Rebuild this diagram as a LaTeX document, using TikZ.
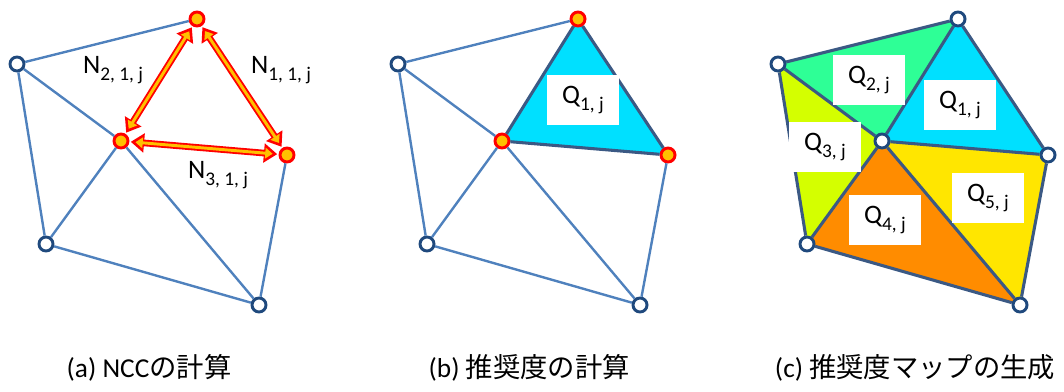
\documentclass[tikz,border=0pt]{standalone}
\usepackage{fontspec}
\setmainfont{Carlito}
\newfontfamily\jpfont{Noto Sans CJK JP}
\usepackage{tikz}
\usetikzlibrary{arrows.meta, backgrounds}

\definecolor{edgeblue}{RGB}{79,129,189}
\definecolor{darkedge}{RGB}{59,89,132}
\definecolor{vtxblue}{RGB}{31,73,125}
\definecolor{vtxgold}{RGB}{255,192,0}
\definecolor{qcyan}{RGB}{0,224,255}
\definecolor{qgreen}{RGB}{46,255,150}
\definecolor{qlime}{RGB}{212,255,0}
\definecolor{qorange}{RGB}{255,140,0}
\definecolor{qyellow}{RGB}{255,230,0}

\newcommand{\subidx}[1]{\raisebox{-5pt}{\fontsize{14.5pt}{14.5pt}\selectfont #1}}

\begin{document}
\begin{tikzpicture}[x=0.75pt, y=-0.75pt,
    vertex/.style={circle, draw=vtxblue, fill=white, line width=2.2pt, inner sep=0pt, minimum size=10.5pt},
    hot/.style={vertex, draw=red, fill=vtxgold},
    edge/.style={draw=edgeblue, line width=1.8pt},
    bold edge/.style={draw=darkedge, line width=2.3pt},
    qbox/.style={fill=white, minimum width=54pt, minimum height=37.5pt, inner sep=0pt, font=\fontsize{20pt}{20pt}\selectfont},
    lbl/.style={font=\fontsize{20pt}{20pt}\selectfont},
    caption/.style={font=\fontsize{20.5pt}{20.5pt}\selectfont},
    ncc/.style={draw=red, line width=5pt, {Triangle[length=10pt,width=14pt]}-{Triangle[length=10pt,width=14pt]}, shorten <=1pt, shorten >=1pt,
        postaction={draw=vtxgold, line width=2.2pt, {Triangle[length=5.5pt,width=8pt]}-{Triangle[length=5.5pt,width=8pt]}, shorten <=4.5pt, shorten >=4.5pt}}
]
\useasboundingbox (0,0) rectangle (1064,392);

% (a) NCC
\node[vertex] (aL) at (17,64) {};
\node[hot] (aT) at (197,19) {};
\node[hot] (aC) at (121,141) {};
\node[hot] (aR) at (287,155) {};
\node[vertex] (aBL) at (46,244) {};
\node[vertex] (aB) at (259,305) {};

\draw[edge] (aT) -- (aL);
\draw[edge] (aL) -- (aC);
\draw[edge] (aL) -- (aBL);
\draw[edge] (aC) -- (aBL);
\draw[edge] (aC) -- (aB);
\draw[edge] (aBL) -- (aB);
\draw[edge] (aR) -- (aB);

\draw[ncc] (aT) -- (aC);
\draw[ncc] (aT) -- (aR);
\draw[ncc] (aC) -- (aR);

\node[lbl] (n2) at (113,70) {N\subidx{2, 1, j}};
\node[lbl] (n1) at (281,70) {N\subidx{1, 1, j}};
\node[lbl] (n3) at (218,175) {N\subidx{3, 1, j}};

% (b) score of one triangle
\node[vertex] (bL) at (398,64) {};
\node[hot] (bT) at (578,19) {};
\node[hot] (bC) at (502,141) {};
\node[hot] (bR) at (668,155) {};
\node[vertex] (bBL) at (427,244) {};
\node[vertex] (bB) at (640,305) {};

\begin{scope}[on background layer]
  \fill[qcyan] (bT.center) -- (bC.center) -- (bR.center) -- cycle;
\end{scope}

\draw[edge] (bT) -- (bL);
\draw[edge] (bL) -- (bC);
\draw[edge] (bL) -- (bBL);
\draw[edge] (bC) -- (bBL);
\draw[edge] (bC) -- (bB);
\draw[edge] (bBL) -- (bB);
\draw[edge] (bR) -- (bB);
\draw[bold edge] (bT) -- (bC);
\draw[bold edge] (bC) -- (bR);
\draw[bold edge] (bR) -- (bT);

\node[qbox] (bq1) at (583,100) {Q\subidx{1, j}};

% (c) score map
\node[vertex] (cL) at (778,64) {};
\node[vertex] (cT) at (958,19) {};
\node[vertex] (cC) at (882,141) {};
\node[vertex] (cR) at (1048,155) {};
\node[vertex] (cBL) at (807,244) {};
\node[vertex] (cB) at (1020,305) {};

\begin{scope}[on background layer]
  \fill[qcyan] (cT.center) -- (cC.center) -- (cR.center) -- cycle;
  \fill[qgreen] (cL.center) -- (cT.center) -- (cC.center) -- cycle;
  \fill[qlime] (cL.center) -- (cC.center) -- (cBL.center) -- cycle;
  \fill[qorange] (cC.center) -- (cBL.center) -- (cB.center) -- cycle;
  \fill[qyellow] (cC.center) -- (cR.center) -- (cB.center) -- cycle;
\end{scope}

\draw[bold edge] (cT) -- (cL);
\draw[bold edge] (cL) -- (cC);
\draw[bold edge] (cL) -- (cBL);
\draw[bold edge] (cC) -- (cBL);
\draw[bold edge] (cC) -- (cB);
\draw[bold edge] (cBL) -- (cB);
\draw[bold edge] (cR) -- (cB);
\draw[bold edge] (cT) -- (cC);
\draw[bold edge] (cC) -- (cR);
\draw[bold edge] (cR) -- (cT);

\node[qbox] (cq2) at (869,80) {Q\subidx{2, j}};
\node[qbox] (cq1) at (960,105) {Q\subidx{1, j}};
\node[qbox] (cq3) at (825,147) {Q\subidx{3, j}};
\node[qbox] (cq4) at (885,220) {Q\subidx{4, j}};
\node[qbox] (cq5) at (988,198) {Q\subidx{5, j}};

% Captions
\node[caption, anchor=west] (capa) at (62,368) {(a) NCC{\jpfont の計算}};
\node[caption, anchor=west] (capb) at (424,368) {(b) {\jpfont 推奨度の計算}};
\node[caption, anchor=east] (capc) at (1060,368) {(c) {\jpfont 推奨度マップの生成}};

\end{tikzpicture}
\end{document}
